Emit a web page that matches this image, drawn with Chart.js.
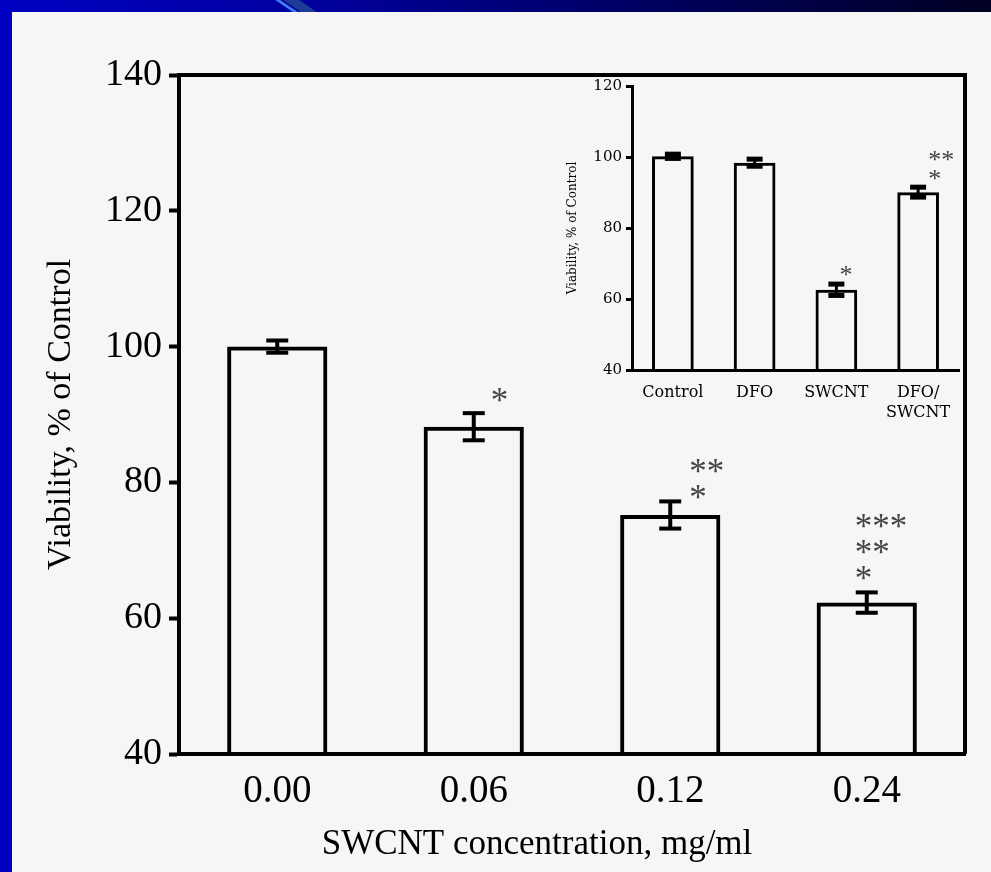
<!DOCTYPE html>
<html>
<head>
<meta charset="utf-8">
<script src="https://cdn.jsdelivr.net/npm/chart.js@4.4.1/dist/chart.umd.min.js"></script>
<style>
  html, body { margin: 0; padding: 0; }
  body {
    width: 991px; height: 872px; position: relative; overflow: hidden;
    background: linear-gradient(to right, #0000c2 0%, #0000a0 30%, #00006a 60%, #000022 100%);
  }
  #panel { position: absolute; left: 12px; top: 12px; width: 979px; height: 860px; background: #f6f6f6; }
  #stripe1 { position: absolute; left: 284px; top: 0; width: 5px; height: 12px; background: #3f7cf2; transform: skewX(56deg); }
  #stripe2 { position: absolute; left: 292px; top: 0; width: 16px; height: 12px; background: #1d3c95; transform: skewX(56deg); }
  #main { position: absolute; left: 0; top: 0; }
  #inset { position: absolute; left: 540px; top: 60px; }
</style>
</head>
<body>
<div id="stripe2"></div>
<div id="stripe1"></div>
<div id="panel"></div>
<canvas id="main" width="991" height="872"></canvas>
<canvas id="inset" width="440" height="380"></canvas>
<script>
// main chart data
var concentrations = ['0.00', '0.06', '0.12', '0.24'];
var viability = [100, 88.2, 75.2, 62.3];
var viabilityErr = [0.9, 2.0, 2.0, 1.5];
var viabilitySig = [[], ['*'], ['**', '*'], ['***', '**', '*']];

// inset data
var insetGroups = [['Control'], ['DFO'], ['SWCNT'], ['DFO/', 'SWCNT']];
var insetViability = [100.2, 98.4, 62.6, 90.1];
var insetErr = [0.6, 1.0, 1.6, 1.4];
var insetSig = [[], [], ['*'], ['**', '*']];

// error bars + asterisks, drawn from the y scale
var errorBars = {
    id: 'errorBars',
    afterDatasetsDraw: function(chart, args, opts) {
        var ctx = chart.ctx;
        var yScale = chart.scales.y;
        var values = chart.data.datasets[0].data;
        var meta = chart.getDatasetMeta(0);
        ctx.save();
        meta.data.forEach(function(bar, i) {
            var top = yScale.getPixelForValue(values[i] + opts.errors[i]);
            var bot = yScale.getPixelForValue(values[i] - opts.errors[i]);
            ctx.strokeStyle = '#000';
            ctx.lineWidth = opts.stemWidth;
            ctx.beginPath();
            ctx.moveTo(bar.x, top);
            ctx.lineTo(bar.x, bot);
            ctx.stroke();
            ctx.lineWidth = opts.capWidth;
            [top, bot].forEach(function(py) {
                ctx.beginPath();
                ctx.moveTo(bar.x - opts.capHalf, py);
                ctx.lineTo(bar.x + opts.capHalf, py);
                ctx.stroke();
            });
            var lines = opts.sig[i];
            if (!lines.length) return;
            ctx.fillStyle = '#444';
            ctx.font = opts.starFont;
            ctx.textAlign = 'left';
            ctx.textBaseline = 'alphabetic';
            var m = ctx.measureText('*');
            var shift = (m.actualBoundingBoxAscent - m.actualBoundingBoxDescent) / 2;
            var nudge = opts.nudge[i];
            var n = lines.length;
            lines.forEach(function(txt, k) {
                var cy = top + nudge[1] - (n - 1 - k) * opts.lineGap;
                ctx.fillText(txt, bar.x + nudge[0], cy + shift);
            });
        });
        ctx.restore();
    }
};

// top and right border of the main plot box
var frameBox = {
    id: 'frameBox',
    afterDraw: function(chart, args, opts) {
        if (!opts.show) return;
        var a = chart.chartArea;
        var ctx = chart.ctx;
        ctx.save();
        ctx.strokeStyle = '#000';
        ctx.lineWidth = opts.width;
        ctx.beginPath();
        ctx.moveTo(a.left, a.top);
        ctx.lineTo(a.right, a.top);
        ctx.lineTo(a.right, a.bottom);
        ctx.stroke();
        ctx.restore();
    }
};

var serif = "'Liberation Serif', 'Times New Roman', serif";
var serif2 = "'DejaVu Serif', serif";

new Chart(document.getElementById('main').getContext('2d'), {
    type: 'bar',
    data: {
        labels: concentrations,
        datasets: [{
            data: viability,
            backgroundColor: 'rgba(0,0,0,0)',
            borderColor: '#000',
            borderWidth: 4,
            barPercentage: 0.51,
            categoryPercentage: 1
        }]
    },
    plugins: [errorBars, frameBox],
    options: {
        responsive: false,
        animation: false,
        layout: { padding: { top: 75, right: 26 } },
        plugins: {
            legend: { display: false },
            tooltip: { enabled: false },
            errorBars: { errors: viabilityErr, sig: viabilitySig, stemWidth: 4, capWidth: 4, capHalf: 11,
                starFont: '35px ' + serif, lineGap: 26,
                nudge: [[0, 0], [17, -18], [19, -9], [-12, -19]] },
            frameBox: { show: true, width: 4 }
        },
        scales: {
            x: {
                afterFit: function(s) { s.height = 118; },
                grid: { display: false },
                border: { display: true, color: '#000', width: 4 },
                ticks: { color: '#000', padding: 6, font: { family: serif, size: 39 } },
                title: { display: true, text: 'SWCNT concentration, mg/ml        ', color: '#000',
                    font: { family: serif, size: 35 }, padding: { bottom: 6 } }
            },
            y: {
                min: 40, max: 140,
                afterFit: function(s) { s.width = 179; },
                grid: { drawOnChartArea: false, drawTicks: true, tickLength: 10, tickWidth: 4, tickColor: '#000' },
                border: { display: true, color: '#000', width: 4 },
                ticks: { stepSize: 20, color: '#000', padding: 7, font: { family: serif, size: 38 } },
                title: { display: true, text: 'Viability, % of Control', color: '#000',
                    font: { family: serif, size: 34 }, padding: { top: 41 } }
            }
        }
    }
});

new Chart(document.getElementById('inset').getContext('2d'), {
    type: 'bar',
    data: {
        labels: insetGroups,
        datasets: [{
            data: insetViability,
            backgroundColor: 'rgba(0,0,0,0)',
            borderColor: '#000',
            borderWidth: 3,
            barPercentage: 0.51,
            categoryPercentage: 1
        }]
    },
    plugins: [errorBars],
    options: {
        responsive: false,
        animation: false,
        layout: { padding: { top: 26, right: 21 } },
        plugins: {
            legend: { display: false },
            tooltip: { enabled: false },
            errorBars: { errors: insetErr, sig: insetSig, stemWidth: 3, capWidth: 5, capHalf: 8,
                starFont: '26px ' + serif, lineGap: 19,
                nudge: [[0, 0], [0, 0], [3, -13], [10, -12]] }
        },
        scales: {
            x: {
                afterFit: function(s) { s.height = 70; },
                grid: { display: false },
                border: { display: true, color: '#000', width: 3 },
                ticks: { color: '#000', padding: 4, font: { family: serif2, size: 16, lineHeight: 1.3 } }
            },
            y: {
                min: 40, max: 120,
                afterFit: function(s) { s.width = 92; },
                grid: { drawOnChartArea: false, drawTicks: true, tickLength: 6, tickWidth: 3, tickColor: '#000' },
                border: { display: true, color: '#000', width: 3 },
                ticks: { stepSize: 20, color: '#000', padding: 4, font: { family: serif2, size: 15 } },
                title: { display: true, text: 'Viability, % of Control', color: '#000',
                    font: { family: serif2, size: 12 }, padding: { top: 26 } }
            }
        }
    }
});
</script>
</body>
</html>
